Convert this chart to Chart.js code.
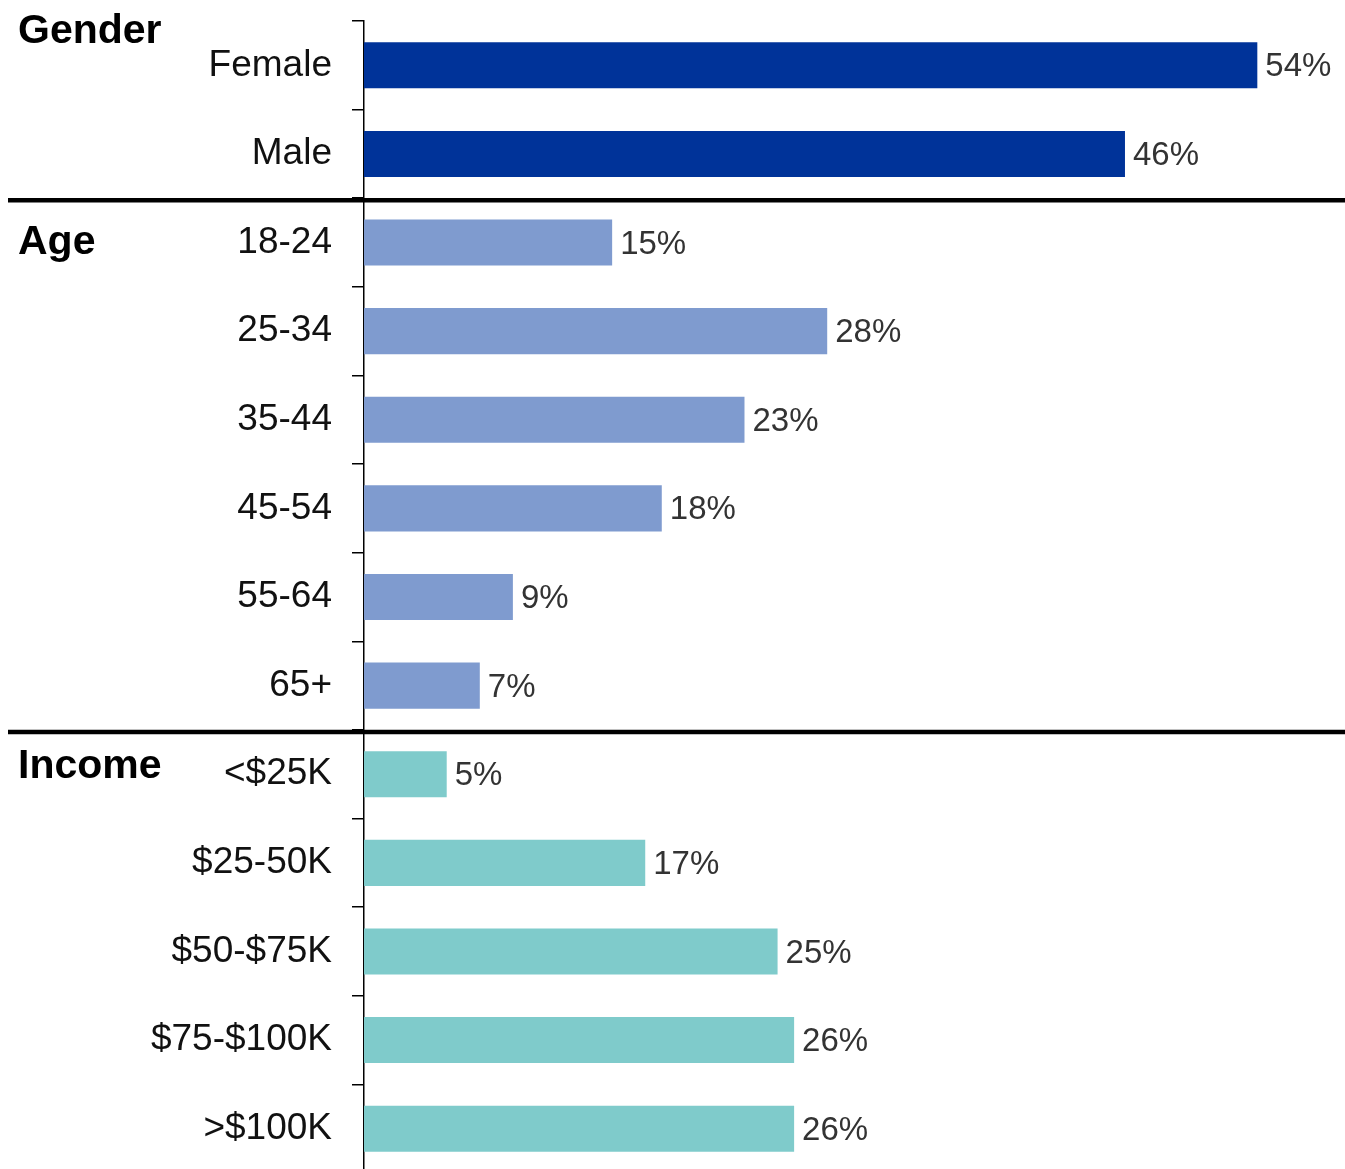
<!DOCTYPE html>
<html>
<head>
<meta charset="utf-8">
<script src="https://cdn.jsdelivr.net/npm/chart.js@4/dist/chart.umd.min.js"></script>
<style>
  html, body { margin: 0; padding: 0; background: #fff; overflow: hidden; }
  #wrap { width: 1345px; height: 1175px; position: relative; }
</style>
</head>
<body>
<div id="wrap"><canvas id="demoChart"></canvas></div>
<script>
// data
const groupNames = ['Gender', 'Age', 'Income'];

const genderLabels = ['Female', 'Male'];
const genderValues = [54, 46];

const ageLabels = ['18-24', '25-34', '35-44', '45-54', '55-64', '65+'];
const ageValues = [15, 28, 23, 18, 9, 7];

const incomeLabels = ['<$25K', '$25-50K', '$50-$75K', '$75-$100K', '>$100K'];
const incomeValues = [5, 17, 25, 26, 26];

const groupColors = ['#003399', '#7f9bcf', '#7fcbcb'];
const FONT = "'Liberation Sans', Arial, sans-serif";

const groups = [
  { labels: genderLabels, values: genderValues },
  { labels: ageLabels, values: ageValues },
  { labels: incomeLabels, values: incomeValues }
];

let labels = [], values = [], colors = [], groupStart = [];
groups.forEach((g, gi) => {
  groupStart.push(labels.length);
  labels = labels.concat(g.labels);
  values = values.concat(g.values);
  g.labels.forEach(() => colors.push(groupColors[gi]));
});

// percent labels at bar ends
const valueLabels = {
  id: 'valueLabels',
  afterDatasetsDraw(chart) {
    const ctx = chart.ctx;
    const meta = chart.getDatasetMeta(0);
    ctx.save();
    ctx.font = '33px ' + FONT;
    ctx.fillStyle = '#333';
    ctx.textAlign = 'left';
    ctx.textBaseline = 'middle';
    meta.data.forEach((bar, i) => {
      ctx.fillText(values[i] + '%', bar.x + 8, bar.y + 2);
    });
    ctx.restore();
  }
};

// section separators and bold group titles
const sections = {
  id: 'sections',
  afterDraw(chart) {
    const ctx = chart.ctx;
    const y = chart.scales.y;
    const offsets = [-34, 0, -8];
    ctx.save();
    ctx.strokeStyle = '#000';
    ctx.lineWidth = 4.5;
    groupStart.forEach((start, gi) => {
      if (gi > 0) {
        const yy = (y.getPixelForValue(start - 1) + y.getPixelForValue(start)) / 2 + 2;
        ctx.beginPath();
        ctx.moveTo(8, yy);
        ctx.lineTo(chart.width, yy);
        ctx.stroke();
      }
      ctx.font = 'bold 41px ' + FONT;
      ctx.fillStyle = '#000';
      ctx.textAlign = 'left';
      ctx.textBaseline = 'middle';
      ctx.fillText(groupNames[gi], 18, y.getPixelForValue(start) + offsets[gi]);
    });
    ctx.restore();
  }
};

function initChart() {
  const ctx = document.getElementById('demoChart').getContext('2d');
  new Chart(ctx, {
    type: 'bar',
    data: {
      labels: labels,
      datasets: [{
        data: values,
        backgroundColor: colors,
        borderWidth: 0,
        categoryPercentage: 1,
        barPercentage: 0.52
      }]
    },
    options: {
      indexAxis: 'y',
      responsive: true,
      maintainAspectRatio: false,
      animation: false,
      layout: { padding: { top: 21, right: 0, bottom: 2, left: 0 } },
      scales: {
        x: { display: false, min: 0, max: 59.3 },
        y: {
          afterFit(scale) {
            scale.width = 364;
            scale.paddingTop = 0;
            scale.paddingBottom = 0;
          },
          grid: {
            offset: true,
            drawOnChartArea: false,
            drawTicks: true,
            tickLength: 12,
            color: '#000',
            lineWidth: 1.5
          },
          border: { display: true, color: '#000', width: 1.5 },
          ticks: {
            padding: 20,
            color: '#111',
            font: { family: FONT, size: 37 }
          }
        }
      },
      plugins: {
        legend: { display: false },
        tooltip: { enabled: false }
      }
    },
    plugins: [valueLabels, sections]
  });
}

window.addEventListener('DOMContentLoaded', initChart);
</script>
</body>
</html>
